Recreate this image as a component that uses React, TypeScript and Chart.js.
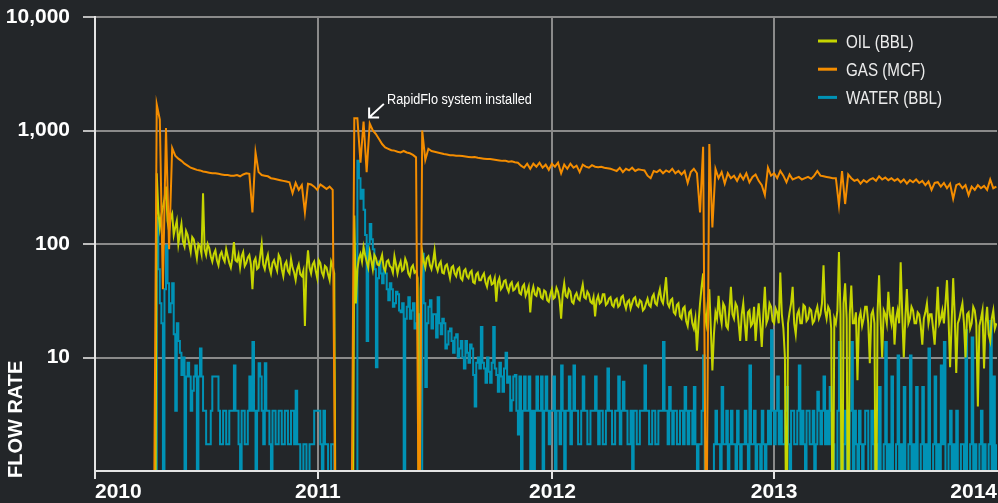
import React, { useEffect, useRef } from 'react';
import { Chart, registerables } from 'chart.js';

Chart.register(...registerables);

// x values are day offsets from the start of 2010
const DAY0 = 95;
const GAS_STEP_DAYS = 5;
const OIL_STEP_DAYS = 2.5;
const WATER_STEP_DAYS = 2.5;
const X_MAX_DAY = 1461;
const YEAR_TICK_DAYS = [0, 361, 741, 1100, 1461];
const YEAR_LABELS = ['2010', '2011', '2012', '2013', '2014'];
const Y_TICKS = [10, 100, 1000, 10000];
const Y_TITLE = 'FLOW RATE';
const SERIES_NAMES = ['OIL (BBL)', 'GAS (MCF)', 'WATER (BBL)'];
const ANNOTATION_TEXT = 'RapidFlo system installed';
const ANNOTATION_DAY = 444;
const ANNOTATION_VALUE = 1300;

// values below the axis minimum (0.1) are shut-in days
const GAS = [
  0.1,
  1700, 1250, 40, 1050, 90, 700, 600, 565, 540, 510,
  490, 470, 460, 450, 445, 435, 430, 425, 420, 420,
  415, 410, 405, 405, 400, 400, 405, 395, 410, 420,
  415, 190, 640, 430, 405, 400, 395, 380, 375, 370,
  365, 360, 355, 350, 280, 345, 300, 330, 190, 340,
  335, 320, 300, 335, 320, 305, 320, 300, 0.1, 0.1,
  0.1, 0.1, 0.1, 0.1, 1280, 1280, 520, 1200, 430, 1150,
  1000, 930, 840, 760, 710, 690, 670, 665, 650, 640,
  660, 640, 630, 610, 580, 0.1, 1000, 550, 690, 660,
  650, 640, 630, 620, 615, 605, 605, 600, 600, 595,
  590, 585, 580, 585, 575, 570, 565, 560, 560, 555,
  550, 545, 540, 540, 530, 535, 525, 520, 490, 470,
  510, 460, 510, 480, 520, 470, 500, 450, 510, 480,
  520, 420, 500, 460, 510, 470, 490, 430, 500, 480,
  470, 495, 480, 475, 480, 470, 465, 460, 450, 440,
  470, 430, 460, 445, 470, 440, 455, 450, 445, 400,
  380, 440, 430, 450, 420, 445, 430, 460, 420, 440,
  410, 440, 345, 430, 460, 420, 190, 720, 0.1, 760,
  140, 460, 380, 430, 340, 420, 380, 400, 360, 410,
  370, 420, 350, 390, 410, 360, 330, 270, 470, 400,
  420, 380, 440, 400, 350, 410, 370, 380, 390, 370,
  380, 390, 375, 400, 440, 400, 395, 390, 385, 380,
  380, 220, 440, 225, 410, 380, 360, 370, 340, 365,
  350, 370, 380, 360, 395, 370, 385, 365, 380, 360,
  375, 350, 370, 340, 365, 350, 370, 345, 360, 330,
  355, 300, 345, 350, 320, 345, 310, 340, 250, 330,
  340, 310, 330, 270, 320, 300, 330, 310, 325, 300,
  370, 310, 320,
];

const OIL = [
  0.1, 0.1,
  420, 200, 140, 180, 210, 250, 320, 160, 130, 170,
  185, 120, 140, 160, 100, 125, 150, 105, 95, 130,
  120, 100, 85, 115, 110, 90, 75, 100, 95, 82,
  280, 90, 80, 100, 92, 78, 70, 82, 88, 72,
  65, 80, 85, 75, 70, 90, 78, 68, 62, 75,
  104, 72, 70, 80, 62, 78, 85, 64, 68, 76,
  80, 66, 40, 70, 75, 60, 62, 78, 100, 66,
  60, 72, 80, 62, 55, 68, 72, 64, 58, 80,
  75, 60, 52, 66, 70, 58, 55, 74, 62, 56,
  48, 60, 66, 54, 52, 58, 19, 60, 88, 62,
  55, 66, 70, 58, 50, 72, 68, 56, 52, 64,
  62, 54, 48, 70, 64, 55, 0.1, 0.1, 0.1, 0.1,
  0.1, 0.1, 0.1, 0.1, 0.1, 0.1, 0.1, 0.1, 178, 30,
  60, 75, 82, 70, 94, 80, 70, 62, 85, 72,
  60, 80, 75, 66, 65, 72, 80, 62, 58, 70,
  72, 64, 62, 56, 78, 66, 55, 64, 70, 58,
  60, 74, 68, 55, 52, 62, 65, 56, 58, 50,
  0.1, 40, 85, 70, 62, 75, 78, 65, 60, 70,
  88, 64, 58, 66, 70, 56, 55, 64, 66, 58,
  50, 62, 64, 55, 52, 60, 62, 50, 48, 58,
  60, 52, 50, 56, 58, 46, 45, 54, 56, 48,
  48, 52, 55, 46, 42, 50, 52, 44, 45, 50,
  31, 46, 50, 40, 42, 47, 48, 41, 38, 44,
  46, 39, 40, 43, 45, 37, 36, 42, 44, 35,
  38, 42, 25, 37, 42, 36, 35, 41, 40, 34,
  33, 39, 38, 32, 31, 36, 40, 33, 34, 41,
  38, 32, 22, 36, 45, 35, 34, 40, 38, 31,
  30, 35, 37, 33, 32, 38, 44, 34, 33, 38,
  36, 31, 30, 34, 23, 32, 35, 30, 31, 36,
  36, 29, 30, 33, 34, 29, 28, 32, 33, 28,
  29, 34, 35, 30, 27, 31, 32, 27, 30, 33,
  34, 29, 28, 32, 31, 26, 27, 30, 33, 29,
  28, 34, 36, 30, 29, 35, 40, 32, 30, 38,
  51, 30, 28, 32, 33, 25, 24, 29, 30, 23,
  22, 27, 28, 21, 19, 25, 26, 20, 18, 22,
  11.5, 20, 30, 42, 55, 25, 20, 30, 40, 18,
  7.7, 16, 25, 22, 35, 24, 20, 30, 28, 19,
  18, 26, 42, 24, 22, 30, 28, 20, 14, 24,
  30, 20, 14, 25, 26, 19, 20, 28, 14, 22,
  30, 20, 12.4, 24, 42, 20, 22, 30, 28, 21,
  20, 27, 25, 20, 56, 24, 18, 10, 0.1, 20,
  25, 30, 42, 20, 16, 24, 26, 20, 20, 29,
  28, 21, 22, 27, 26, 20, 21, 25, 28, 22,
  24, 30, 65, 26, 22, 28, 26, 18, 0.1, 22,
  20, 26, 85, 24, 0.1, 30, 45, 22, 0.1, 24,
  43, 20, 20, 25, 6.3, 22, 25, 19, 22, 28,
  28, 20, 8.9, 24, 26, 20, 0.1, 25, 53, 22,
  10, 26, 24, 20, 38, 24, 20, 28, 13, 22,
  26, 20, 69, 24, 10, 22, 40, 20, 22, 28,
  26, 20, 20, 25, 24, 19, 13, 22, 25, 30,
  20, 24, 24, 18, 13, 22, 42, 20, 22, 26,
  20, 30, 48, 22, 8.2, 20, 50, 24, 7.3, 20,
  22, 26, 30, 20, 10, 24, 25, 18, 20, 28,
  26, 20, 3.7, 19, 22, 26, 8, 20, 28, 16,
  14, 22, 26, 18, 20,
];

const WATER = [
  0.1, 0.1,
  170, 60, 30, 20, 0.1, 40, 97, 45, 25, 30,
  45, 16, 3.4, 20, 14, 11, 7, 10, 0.1, 6.8,
  9, 6.8, 3.4, 5.1, 6.8, 8.5, 0.1, 6.8, 12, 6.8,
  3.4, 3.4, 1.72, 1.72, 1.72, 3.4, 6.8, 6.8, 6.8, 6.8,
  3.4, 1.72, 1.72, 3.4, 3.4, 1.72, 1.72, 3.4, 3.4, 3.4,
  8.5, 3.4, 3.4, 1.72, 0.1, 3.4, 3.4, 1.72, 1.72, 3.4,
  6.8, 3.4, 13.7, 3.4, 0.1, 3.4, 8.9, 6.8, 3.4, 1.72,
  8.9, 3.4, 3.4, 1.72, 0.1, 3.4, 3.4, 1.72, 1.72, 3.4,
  3.4, 1.72, 1.72, 3.4, 3.4, 1.72, 1.72, 3.4, 3.4, 1.72,
  5.1, 1.72, 1.72, 0.1, 0.1, 1.72, 1.72, 0.1, 0.1, 1.72,
  1.72, 1.72, 3.4, 3.4, 3.4, 3.4, 1.72, 0.1, 3.4, 1.72,
  1.72, 0.1, 0.1, 1.72, 1.72, 0.1, 0.1, 0.1, 0.1, 0.1,
  0.1, 0.1, 0.1, 0.1, 0.1, 0.1, 0.1, 0.1, 0.1, 0.1,
  540, 380, 250, 300, 200, 120, 14, 100, 150, 110,
  90, 60, 8.2, 50, 70, 55, 45, 60, 55, 40,
  32, 45, 40, 28, 30, 38, 36, 26, 25, 30,
  0.1, 22, 28, 34, 22, 26, 30, 18, 20, 24,
  0.1, 0.1, 82, 30, 5.5, 20, 28, 32, 18, 24,
  24, 15, 34, 20, 16, 22, 20, 12, 13, 17,
  18, 14, 11, 15, 16, 10, 12, 14, 10, 8,
  14, 11, 9, 13, 12, 7, 3.7, 9, 10, 8,
  18.6, 9, 8, 6, 10, 7.5, 6, 9, 18.6, 8,
  7, 5, 9, 6.8, 5, 8, 11, 6, 6.8, 3.4,
  4.2, 6.8, 7, 3.4, 2.1, 6.8, 0.1, 3.4, 6.8, 3.4,
  3.4, 6.8, 0.1, 3.4, 0.1, 3.4, 6.8, 3.4, 3.4, 6.8,
  0.1, 3.4, 6.8, 3.4, 1.72, 3.4, 3.4, 6.8, 0.1, 3.4,
  3.4, 1.72, 8.5, 3.4, 0.1, 3.4, 3.4, 6.8, 1.72, 3.4,
  8.5, 3.4, 3.4, 1.72, 1.72, 3.4, 6.8, 3.4, 3.4, 1.72,
  1.72, 3.4, 3.4, 3.4, 6.8, 3.4, 1.72, 3.4, 3.4, 1.72,
  1.72, 3.4, 8, 3.4, 3.4, 1.72, 1.72, 3.4, 3.4, 6.8,
  1.72, 3.4, 6.1, 3.4, 3.4, 1.72, 1.72, 3.4, 0.1, 3.4,
  3.4, 1.72, 1.72, 3.4, 3.4, 3.4, 8.5, 3.4, 3.4, 1.72,
  1.72, 3.4, 3.4, 1.72, 1.72, 3.4, 3.4, 3.4, 13.7, 3.4,
  3.4, 1.72, 5.5, 3.4, 1.72, 3.4, 3.4, 1.72, 1.72, 3.4,
  3.4, 1.72, 5.5, 3.4, 1.72, 3.4, 3.4, 1.72, 5.5, 1.72,
  0.1, 1.72, 1.72, 3.4, 10.4, 0.1, 0.1, 0.1, 0.1, 0.1,
  0.1, 1.72, 3.4, 1.72, 1.72, 0.1, 5.5, 1.72, 1.72, 3.4,
  0.1, 1.72, 3.4, 1.72, 1.72, 0.1, 3.4, 1.72, 0.1, 1.72,
  1.72, 3.4, 1.72, 0.1, 8.5, 1.72, 1.72, 3.4, 0.1, 1.72,
  1.72, 0.1, 3.4, 1.72, 0.1, 1.72, 3.4, 1.72, 17.4, 3.4,
  1.72, 3.4, 6.8, 1.72, 3.4, 1.72, 1.72, 3.4, 5.5, 1.72,
  0.1, 3.4, 3.4, 1.72, 1.72, 3.4, 8.5, 1.72, 3.4, 1.72,
  0.1, 3.4, 3.4, 1.72, 1.72, 3.4, 0.1, 1.72, 5, 3.4,
  1.72, 3.4, 6.8, 1.72, 3.4, 1.72, 5.5, 3.4, 1.72, 0.1,
  0.1, 3.4, 13.7, 0.1, 0.1, 1.72, 3.4, 0.1, 0.1, 3.4,
  13.7, 0.1, 3.4, 1.72, 0.1, 3.4, 1.72, 0.1, 1.72, 3.4,
  3.4, 0.1, 0.1, 3.4, 1.72, 0.1, 1.72, 0.1, 5.5, 0.1,
  0.1, 1.72, 13.7, 0.1, 1.72, 0.1, 6.8, 0.1, 0.1, 1.72,
  10.4, 0.1, 1.72, 0.1, 5.5, 0.1, 0.1, 1.72, 10.4, 0.1,
  1.72, 0.1, 5.5, 0.1, 0.1, 1.72, 5.5, 0.1, 1.72, 0.1,
  12, 0.1, 0.1, 1.72, 6.8, 0.1, 1.72, 0.1, 8.5, 1.72,
  13.7, 0.1, 0.1, 1.72, 3.4, 0.1, 1.72, 0.1, 3.4, 0.1,
  0.1, 1.72, 1.72, 0.1, 17.4, 0.1, 0.1, 1.72, 15, 0.1,
  1.72, 0.1, 0.1, 1.72, 3.4, 0.1, 1.72, 0.1, 0.1, 1.72,
  21, 0.1, 6.8, 0.1, 1.72,
];

const COLORS = {
  oil: '#c6d500',
  gas: '#f48d00',
  water: '#0092b5',
  bg: '#232629',
  grid: '#8a8a8a',
  axis: '#e4e4e4',
  text: '#ffffff',
};

const toPoints = (vals: number[], step: number) => vals.map((v, i) => ({ x: DAY0 + i * step, y: v }));

function narrowText(ctx: CanvasRenderingContext2D, text: string, x: number, y: number, size: number, color: string) {
  ctx.save();
  ctx.translate(x, y);
  ctx.scale(0.82, 1);
  ctx.font = `${size}px "Liberation Sans", Arial, sans-serif`;
  ctx.fillStyle = color;
  ctx.textAlign = 'left';
  ctx.textBaseline = 'middle';
  ctx.fillText(text, 0, 0);
  ctx.restore();
}

const overlayPlugin = {
  id: 'overlay',
  afterDraw(chart: any) {
    const ctx: CanvasRenderingContext2D = chart.ctx;
    const area = chart.chartArea;
    // y-axis title
    ctx.save();
    ctx.fillStyle = COLORS.text;
    ctx.font = 'bold 20px "Liberation Sans", Arial, sans-serif';
    ctx.translate(16, area.bottom + 7);
    ctx.rotate(-Math.PI / 2);
    ctx.textAlign = 'left';
    ctx.textBaseline = 'middle';
    ctx.fillText(Y_TITLE, 0, 0);
    ctx.restore();

    // legend
    const colors = [COLORS.oil, COLORS.gas, COLORS.water];
    const lx = area.right - 179;
    const ly = 41;
    SERIES_NAMES.forEach((name, i) => {
      const y = ly + i * 28.2;
      ctx.save();
      ctx.fillStyle = colors[i];
      ctx.fillRect(lx, y - 1.5, 19, 3);
      ctx.restore();
      narrowText(ctx, name, lx + 28, y + 1.5, 18.5, '#ececec');
    });

    // annotation with arrow
    const tx = chart.scales.x.getPixelForValue(ANNOTATION_DAY);
    const ty = chart.scales.y.getPixelForValue(ANNOTATION_VALUE);
    ctx.save();
    ctx.strokeStyle = '#ffffff';
    ctx.lineWidth = 2;
    ctx.lineCap = 'square';
    ctx.beginPath();
    ctx.moveTo(tx + 14, ty - 13);
    ctx.lineTo(tx + 1, ty - 1);
    ctx.moveTo(tx, ty - 9);
    ctx.lineTo(tx, ty);
    ctx.lineTo(tx + 9, ty);
    ctx.stroke();
    ctx.restore();
    narrowText(ctx, ANNOTATION_TEXT, tx + 18, ty - 18, 15.5, '#ffffff');
  },
};

export default function App() {
  const canvasRef = useRef<HTMLCanvasElement | null>(null);

  useEffect(() => {
    document.body.style.margin = '0';
    document.body.style.background = COLORS.bg;
    const canvas = canvasRef.current;
    if (!canvas) return;
    const tickFont = { family: '"Liberation Sans", Arial, sans-serif', size: 21, weight: 'bold' as const };
    const chart = new Chart(canvas, {
      type: 'line',
      data: {
        datasets: [
          { label: SERIES_NAMES[0], data: toPoints(OIL, OIL_STEP_DAYS), borderColor: COLORS.oil, backgroundColor: COLORS.oil, order: 1 },
          { label: SERIES_NAMES[1], data: toPoints(GAS, GAS_STEP_DAYS), borderColor: COLORS.gas, backgroundColor: COLORS.gas, order: 0 },
          { label: SERIES_NAMES[2], data: toPoints(WATER, WATER_STEP_DAYS), borderColor: COLORS.water, backgroundColor: COLORS.water, order: 2, stepped: true },
        ],
      },
      options: {
        responsive: false,
        animation: false,
        devicePixelRatio: 1,
        layout: { padding: { top: 17, right: 1, left: 0, bottom: 0 } },
        plugins: { legend: { display: false }, tooltip: { enabled: false } },
        elements: {
          point: { radius: 0 },
          line: { borderWidth: 2, tension: 0, borderJoinStyle: 'miter' as const },
        },
        scales: {
          x: {
            type: 'linear',
            min: 0,
            max: X_MAX_DAY,
            afterBuildTicks: (s: any) => {
              s.ticks = YEAR_TICK_DAYS.map((v) => ({ value: v }));
            },
            afterFit: (s: any) => {
              s.height = 32;
              s.paddingLeft = 0;
              s.paddingRight = 0;
            },
            ticks: {
              callback: (_v: any, i: number) => YEAR_LABELS[i],
              color: COLORS.text,
              font: tickFont,
              align: 'inner',
              padding: 1,
              maxRotation: 0,
              autoSkip: false,
            },
            grid: {
              color: (c: any) => (c.index === 0 || c.index === YEAR_TICK_DAYS.length - 1 ? 'rgba(0,0,0,0)' : COLORS.grid),
              tickColor: (c: any) => (c.index === YEAR_TICK_DAYS.length - 1 ? 'rgba(0,0,0,0)' : COLORS.axis),
              lineWidth: 2,
              tickLength: 8,
              tickWidth: 2,
            },
            border: { color: COLORS.axis, width: 2, z: 1 },
          },
          y: {
            type: 'logarithmic',
            min: 1,
            max: 10000,
            afterBuildTicks: (s: any) => {
              s.ticks = Y_TICKS.map((v) => ({ value: v }));
            },
            afterFit: (s: any) => {
              s.width = 95;
              s.paddingTop = 0;
              s.paddingBottom = 0;
            },
            ticks: {
              callback: (v: any) => Number(v).toLocaleString('en-US'),
              color: COLORS.text,
              font: tickFont,
              padding: 13,
              autoSkip: false,
            },
            grid: {
              color: COLORS.grid,
              tickColor: '#bdbdbd',
              lineWidth: 2,
              tickLength: 12,
              tickWidth: 2,
            },
            border: { color: COLORS.axis, width: 2, z: 1 },
          },
        },
      } as any,
      plugins: [overlayPlugin],
    });
    return () => chart.destroy();
  }, []);

  return (
    <div style={{ width: 998, height: 503, background: COLORS.bg, position: 'relative' }}>
      <canvas ref={canvasRef} width={998} height={503} style={{ display: 'block' }} />
    </div>
  );
}
